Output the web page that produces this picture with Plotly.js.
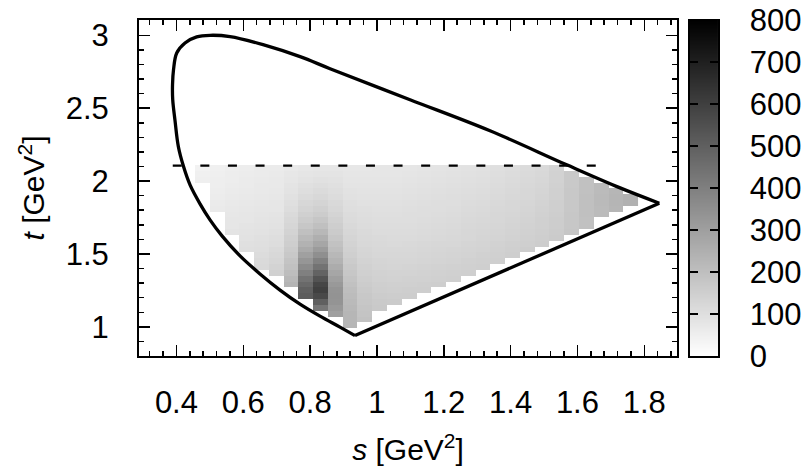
<!DOCTYPE html>
<html>
<head>
<meta charset="utf-8">
<script src="https://cdn.plot.ly/plotly-3.0.1.min.js"></script>
<style>
  html, body { margin: 0; padding: 0; background: #ffffff; }
  #chart { width: 802px; height: 470px; }
</style>
</head>
<body>
<div id="chart"></div>
<script>
// ---- bin edges of the histogram (s columns, t rows) ----
const sEdges = [0.4557, 0.4999, 0.5441, 0.5884, 0.6326, 0.6768, 0.7210, 0.7652, 0.8095, 0.8537,
                0.8979, 0.9421, 0.9863, 1.0306, 1.0748, 1.1190, 1.1632, 1.2074, 1.2517, 1.2959,
                1.3401, 1.3843, 1.4285, 1.4728, 1.5170, 1.5612, 1.6054, 1.6496, 1.6939, 1.7381, 1.7823];
const tEdges = [0.95, 0.99, 1.03, 1.07, 1.11, 1.15, 1.19, 1.23, 1.27, 1.31, 1.35, 1.39, 1.43, 1.47, 1.51,
                1.55, 1.59, 1.63, 1.67, 1.71, 1.75, 1.79, 1.83, 1.87, 1.91, 1.95, 1.99, 2.03, 2.07, 2.11];

// first filled t row of each s column; values listed from that row upward
const colStart = [26, 21, 17, 14, 11, 10, 8, 6, 4, 3, 1, 2, 4, 5, 6, 7, 8, 9, 10, 11, 12, 13, 14, 15, 16, 17, 18, 20, 21, 22];
const colVals = [
  [50, 46, 42],
  [66, 63, 60, 57, 54, 52, 50, 48],
  [84, 80, 77, 74, 71, 68, 65, 62, 60, 58, 56, 54],
  [100, 96, 92, 88, 84, 80, 77, 74, 71, 68, 66, 64, 62, 60, 58],
  [120, 115, 110, 105, 100, 96, 92, 88, 84, 81, 78, 75, 72, 70, 68, 66, 64, 62],
  [145, 138, 130, 122, 115, 108, 102, 97, 92, 88, 84, 80, 77, 74, 72, 70, 68, 66, 64],
  [235, 222, 208, 196, 184, 173, 163, 154, 146, 138, 130, 122, 115, 108, 101, 95, 89, 84, 79, 74, 70],
  [510, 500, 470, 440, 400, 365, 330, 297, 268, 243, 220, 197, 176, 160, 147, 135, 124, 114, 105, 97, 89, 82, 76],
  [430, 500, 570, 600, 580, 540, 490, 440, 395, 352, 313, 280, 250, 222, 198, 178, 161, 147, 134, 122, 112, 102, 93, 86, 80],
  [300, 320, 335, 340, 335, 320, 300, 280, 260, 240, 222, 205, 190, 176, 164, 153, 143, 134, 126, 118, 110, 103, 96, 90, 84, 78],
  [230, 230, 228, 224, 218, 211, 203, 194, 185, 176, 168, 160, 152, 145, 138, 132, 126, 120, 114, 109, 104, 99, 94, 90, 86, 82, 78, 75],
  [190, 186, 182, 177, 172, 166, 160, 154, 148, 143, 138, 133, 128, 123, 119, 115, 111, 107, 103, 99, 95, 91, 88, 85, 82, 79, 76],
  [170, 165, 160, 155, 150, 145, 140, 135, 131, 127, 123, 119, 115, 111, 107, 104, 101, 98, 95, 92, 89, 86, 83, 80, 77],
  [162, 157, 152, 147, 142, 137, 133, 129, 125, 121, 117, 113, 110, 107, 104, 101, 98, 95, 92, 89, 86, 83, 80, 77],
  [158, 153, 148, 143, 138, 134, 130, 126, 122, 118, 114, 111, 108, 105, 102, 99, 96, 93, 90, 87, 84, 81, 78],
  [155, 150, 145, 141, 137, 133, 129, 125, 121, 117, 114, 111, 108, 105, 102, 99, 96, 93, 90, 87, 84, 81],
  [153, 148, 144, 140, 136, 132, 128, 124, 120, 117, 114, 111, 108, 105, 102, 99, 96, 93, 90, 87, 84],
  [152, 147, 143, 139, 135, 131, 127, 123, 120, 117, 114, 111, 108, 105, 102, 99, 96, 93, 90, 87],
  [151, 147, 143, 139, 135, 131, 127, 124, 121, 118, 115, 112, 109, 106, 103, 100, 97, 94, 91],
  [151, 147, 143, 139, 135, 131, 128, 125, 122, 119, 116, 113, 110, 107, 104, 101, 98, 95],
  [152, 148, 144, 140, 136, 133, 130, 127, 124, 121, 118, 115, 112, 109, 106, 103, 100],
  [154, 150, 146, 142, 139, 136, 133, 130, 127, 124, 121, 118, 115, 112, 109, 106],
  [156, 152, 148, 145, 142, 139, 136, 133, 130, 127, 124, 121, 118, 115, 112],
  [158, 155, 152, 149, 146, 143, 140, 137, 134, 131, 128, 125, 122, 119],
  [162, 160, 158, 156, 154, 152, 150, 148, 146, 144, 142, 140, 138],
  [178, 177, 176, 175, 174, 173, 172, 171, 170, 169, 168],
  [195, 196, 197, 198, 198, 197, 196, 195, 194],
  [212, 214, 215, 215, 214, 212],
  [230, 233, 233, 230],
  [245, 245]
];

// ---- phase-space boundary (curved part) and its straight edge ----
const curveS = [0.9344, 0.8895, 0.8297, 0.7698, 0.7100, 0.6501, 0.5903, 0.5364, 0.5005, 0.4706, 0.4407, 0.4206,
                0.4057, 0.3958, 0.3889, 0.3883, 0.3913, 0.4009, 0.4257, 0.4607, 0.5005, 0.5604, 0.6591,
                0.7700, 0.8597, 1.0990, 1.3384, 1.5679, 1.7277, 1.8450];
const curveT = [0.940, 0.998, 1.0735, 1.156, 1.2522, 1.363, 1.4866, 1.624, 1.734, 1.844, 1.974, 2.1045,
                2.2371, 2.4144, 2.5581, 2.6612, 2.7643, 2.8790, 2.9478, 2.9890, 3.000, 2.9911, 2.9361,
                2.8536, 2.7711, 2.5581, 2.345, 2.1113, 1.9532, 1.8481];
const edgeS = [1.8450, 0.9344];
const edgeT = [1.8481, 0.940];

// ---- cut line ----
const cutS = [0.389, 1.658];
const cutT = [2.1065, 2.1065];

// ---- colour scale ----
const zRange = [0, 800];
const cbTicks = [0, 100, 200, 300, 400, 500, 600, 700, 800];

// build the z table (rows = t bins, columns = s bins)
const nRows = tEdges.length - 1, nCols = sEdges.length - 1;
const z = [];
for (let j = 0; j < nRows; j++) { z.push(new Array(nCols).fill(null)); }
colVals.forEach((vals, k) => {
  vals.forEach((v, i) => { z[colStart[k] + i][k] = v; });
});

const grayScale = [[0, '#ffffff'], [1, '#000000']];
const FONT = 'Liberation Sans, Arial, Helvetica, sans-serif';
const TICK_SIZE = 31;
const TITLE_SIZE = 30;

const traces = [
  { type: 'heatmap', x: sEdges, y: tEdges, z: z, zmin: zRange[0], zmax: zRange[1],
    colorscale: grayScale, showscale: false, hoverinfo: 'skip', xaxis: 'x', yaxis: 'y' },
  { type: 'scatter', mode: 'lines', x: cutS, y: cutT, xaxis: 'x', yaxis: 'y',
    line: { color: '#000000', width: 2.3, dash: '9px,18.6px' }, hoverinfo: 'skip' },
  { type: 'scatter', mode: 'lines', x: curveS, y: curveT, xaxis: 'x', yaxis: 'y',
    line: { color: '#000000', width: 3.3, shape: 'spline', smoothing: 1 }, hoverinfo: 'skip' },
  { type: 'scatter', mode: 'lines', x: edgeS, y: edgeT, xaxis: 'x', yaxis: 'y',
    line: { color: '#000000', width: 3.3 }, hoverinfo: 'skip' },
  // colour bar drawn as its own small panel
  { type: 'heatmap', x: [0, 1], y: zRange, z: [[zRange[0], zRange[0]], [zRange[1], zRange[1]]],
    zmin: zRange[0], zmax: zRange[1], zsmooth: 'best', colorscale: grayScale, showscale: false,
    hoverinfo: 'skip', xaxis: 'x2', yaxis: 'y2' }
];

const axisCommon = {
  showgrid: false, zeroline: false, showline: true, linecolor: '#000000', linewidth: 2,
  ticks: 'inside', ticklen: 11, tickwidth: 1.5, tickcolor: '#000000', mirror: 'allticks',
  tickfont: { family: FONT, size: TICK_SIZE, color: '#000000' }
};

const layout = {
  width: 802, height: 470,
  margin: { l: 139, r: 84, t: 20, b: 114, pad: 0 },
  paper_bgcolor: '#ffffff', plot_bgcolor: '#ffffff',
  font: { family: FONT, size: TICK_SIZE, color: '#000000' },
  showlegend: false,
  xaxis: Object.assign({}, axisCommon, {
    domain: [0, 0.9292], range: [0.288, 1.898], anchor: 'y',
    tickmode: 'linear', tick0: 0.4, dtick: 0.2, ticklabelstandoff: 18,
    minor: { dtick: 0.04, ticks: 'inside', ticklen: 5, tickwidth: 1.5, tickcolor: '#000000', showgrid: false },
    title: { text: '<i>s</i> [GeV<sup>2</sup>]', font: { family: FONT, size: TITLE_SIZE, color: '#000000' }, standoff: 20 }
  }),
  yaxis: Object.assign({}, axisCommon, {
    domain: [0, 1], range: [0.80, 3.105], anchor: 'x',
    tickmode: 'linear', tick0: 1, dtick: 0.5, ticklabelstandoff: 22,
    minor: { dtick: 0.1, ticks: 'inside', ticklen: 5, tickwidth: 1.5, tickcolor: '#000000', showgrid: false },
    title: { text: '<i>t</i> [GeV<sup>2</sup>]', font: { family: FONT, size: TITLE_SIZE, color: '#000000' }, standoff: 12 }
  }),
  xaxis2: {
    domain: [0.9516, 1], range: [0, 1], anchor: 'y2', showgrid: false, zeroline: false,
    showline: true, mirror: true, linecolor: '#000000', linewidth: 1.5, ticks: '', showticklabels: false
  },
  yaxis2: {
    domain: [0, 1], range: zRange, anchor: 'x2', side: 'right', showgrid: false, zeroline: false,
    showline: true, mirror: 'ticks', linecolor: '#000000', linewidth: 1.5,
    tickmode: 'array', tickvals: cbTicks, ticktext: cbTicks.map(String),
    ticks: 'inside', ticklen: 8, tickwidth: 1.5, tickcolor: '#000000', ticklabelstandoff: 24,
    tickfont: { family: FONT, size: TICK_SIZE, color: '#000000' }
  }
};

Plotly.newPlot('chart', traces, layout, { displayModeBar: false, staticPlot: true });
</script>
</body>
</html>
